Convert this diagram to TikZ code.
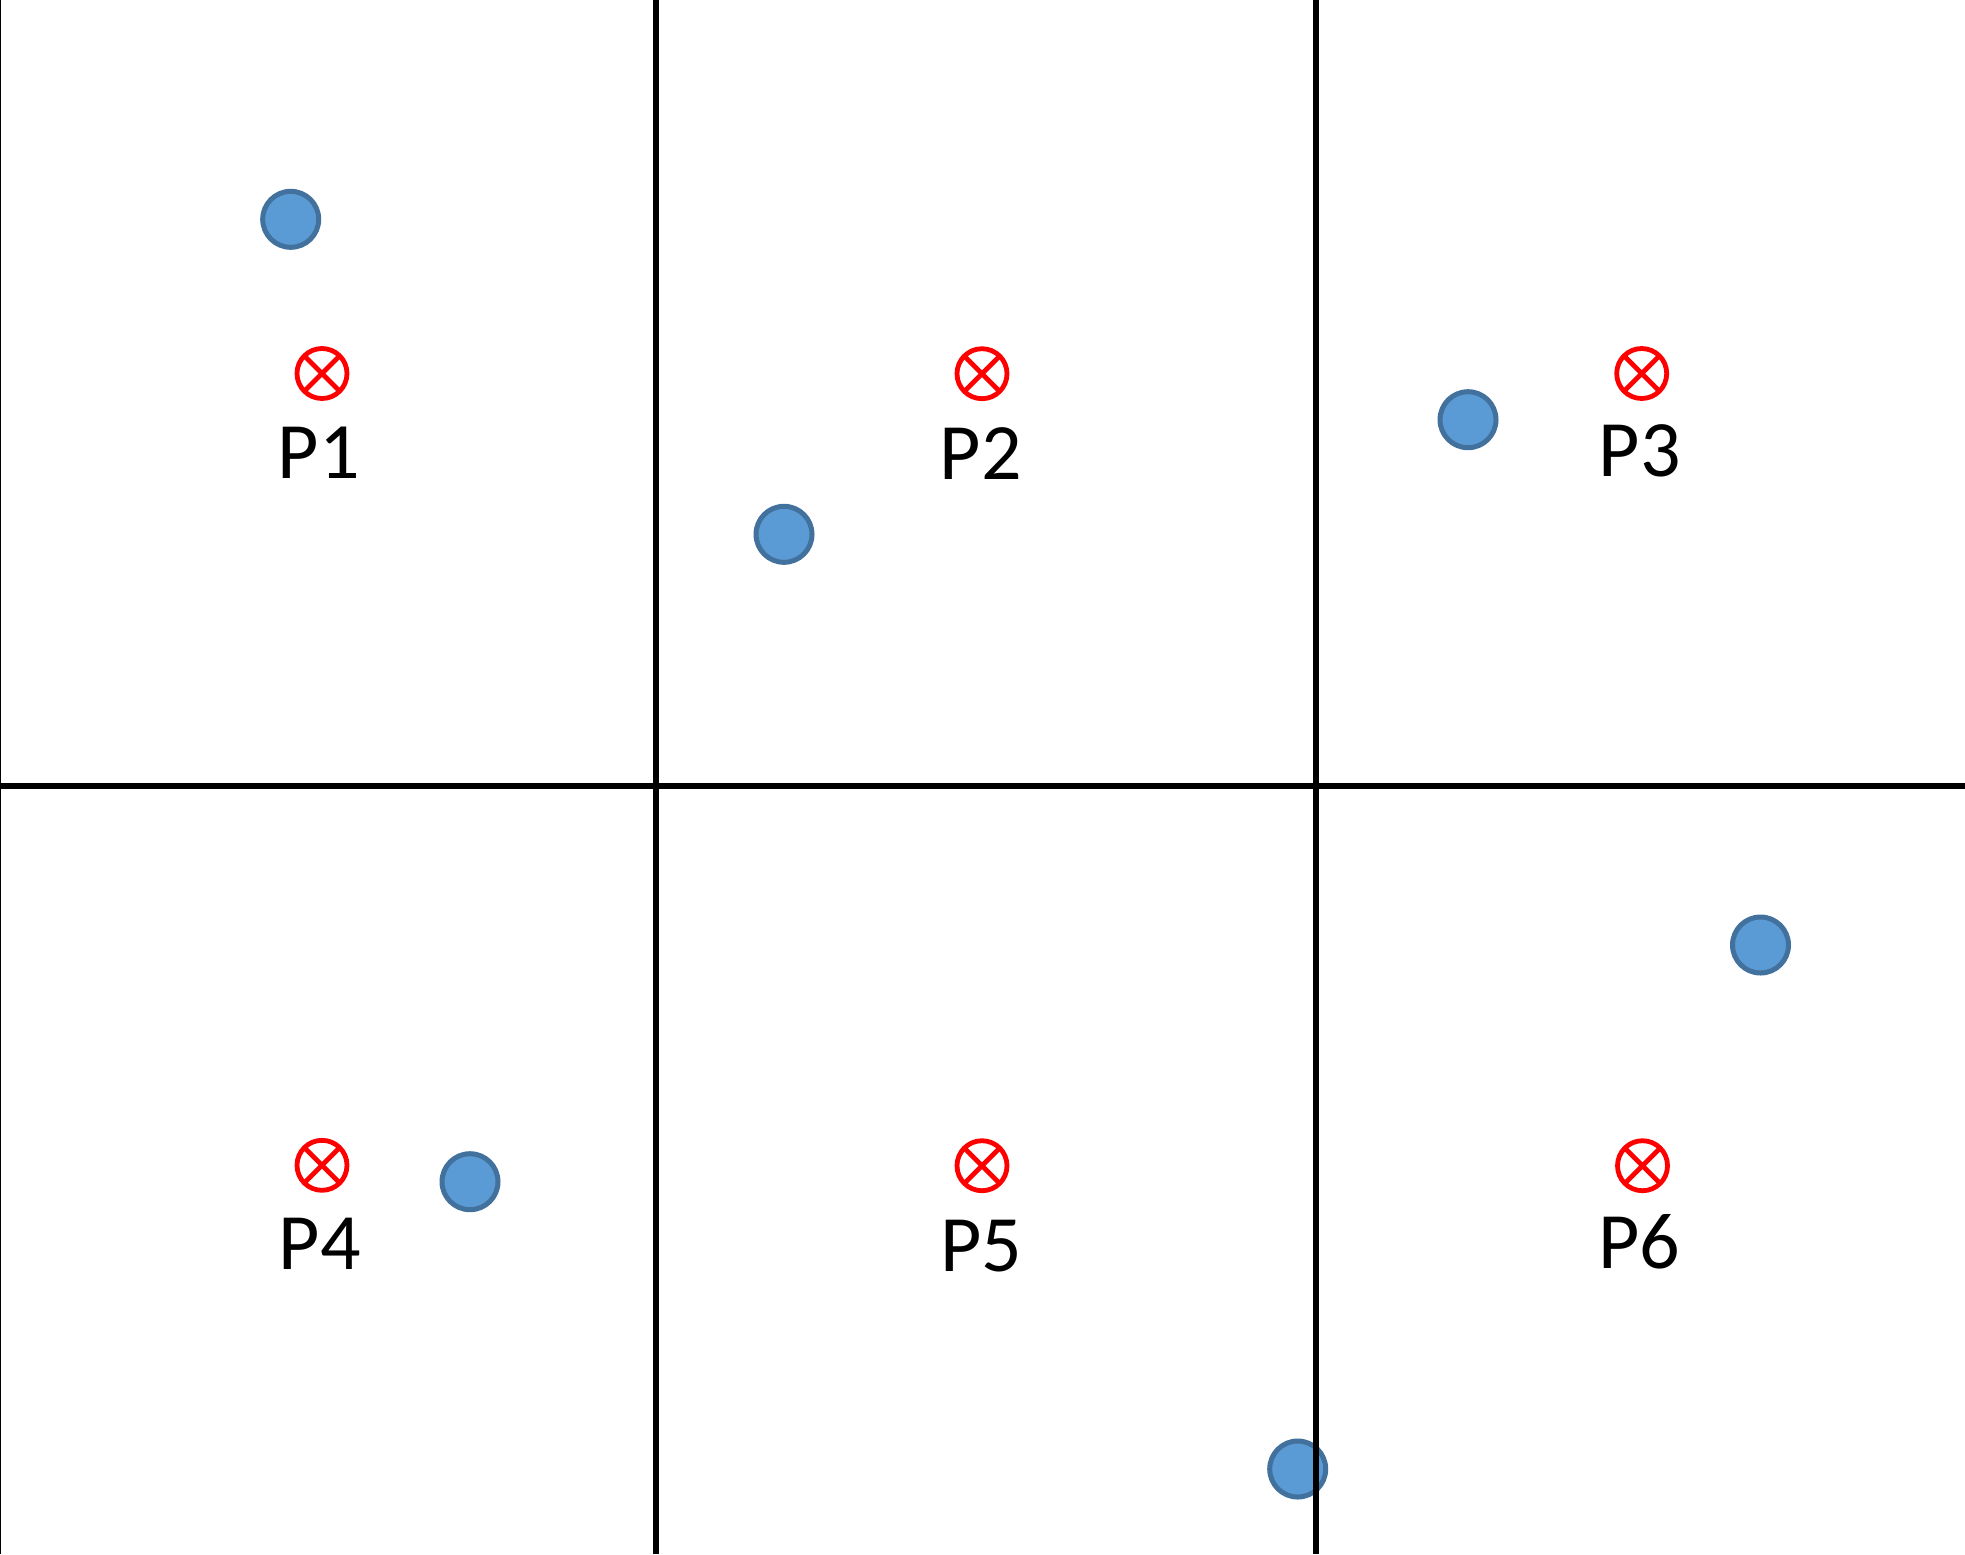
\documentclass[tikz,border=0pt]{standalone}
\usepackage{fontspec}
\setmainfont{Carlito}
\definecolor{ptfill}{HTML}{5B9BD5}
\definecolor{ptline}{HTML}{41719C}
\begin{document}
\begin{tikzpicture}[x=0.5pt,y=-0.5pt,
  sample/.style={circle,draw=ptline,fill=ptfill,line width=2.5pt,minimum size=28pt,inner sep=0pt,outer sep=0pt},
  target/.style={circle,draw=red,line width=2.4pt,minimum size=25pt,inner sep=0pt,outer sep=0pt},
  lbl/.style={anchor=base,inner sep=0pt,font=\fontsize{40pt}{48pt}\selectfont},
  grid/.style={line width=3pt,black}]
\useasboundingbox (0,0) rectangle (1965,1554);
\fill[white] (0,0) rectangle (1965,1554);
% blue sample points
\node[sample] (s1) at (290.7,219.3) {};
\node[sample] (s2) at (784,534.3) {};
\node[sample] (s3) at (1468,419.7) {};
\node[sample] (s4) at (470,1181.7) {};
\node[sample] (s5) at (1297.7,1469) {};
\node[sample] (s6) at (1760.5,945) {};
% grid lines
\coordinate (v1t) at (655.5,0); \coordinate (v1b) at (655.5,1554);
\coordinate (v2t) at (1315.5,0); \coordinate (v2b) at (1315.5,1554);
\coordinate (hl) at (0,785.5); \coordinate (hr) at (1965,785.5);
\coordinate (lt) at (0,0); \coordinate (lb) at (0,1554);
\draw[grid] (v1t) -- (v1b);
\draw[grid] (v2t) -- (v2b);
\draw[grid] (hl) -- (hr);
\draw[line width=1.4pt] (lt) -- (lb);
% red targets
\foreach \n/\x/\y in {1/322/373.5, 2/982/373.7, 3/1641.7/373.5, 4/322/1165.3, 5/982/1165.7, 6/1642.5/1165.7}{
  \node[target] (t\n) at (\x,\y) {};
  \draw[red,line width=2.4pt] (t\n.45) -- (t\n.225) (t\n.135) -- (t\n.315);
}
% labels
\node[lbl] (l1) at (318.8,478.3) {P1};
\node[lbl] (l2) at (980.8,479.3) {P2};
\node[lbl] (l3) at (1639.7,476.7) {P3};
\node[lbl] (l4) at (319.7,1269.3) {P4};
\node[lbl] (l5) at (981,1271.7) {P5};
\node[lbl] (l6) at (1639.5,1268.3) {P6};
\end{tikzpicture}
\end{document}
